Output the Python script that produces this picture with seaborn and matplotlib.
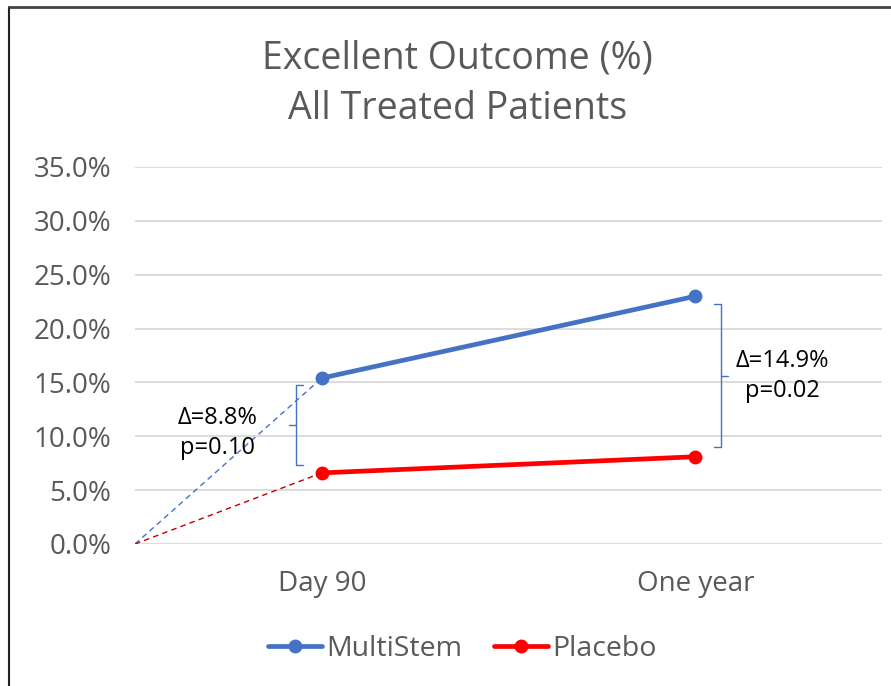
import pandas as pd
import seaborn as sns
import matplotlib.pyplot as plt
from matplotlib.lines import Line2D

# data
timepoints = ['Day 90', 'One year']
multistem = [0.154, 0.230]
placebo = [0.066, 0.081]
delta_labels = ['Δ=8.8%\np=0.10', 'Δ=14.9%\np=0.02']

df = pd.DataFrame({
    'time': timepoints * 2,
    'pct': multistem + placebo,
    'group': ['MultiStem'] * 2 + ['Placebo'] * 2,
})

sns.set_style('white')
plt.rcParams['font.family'] = ['Open Sans', 'DejaVu Sans']
gray = '#595959'
palette = {'MultiStem': '#4472C4', 'Placebo': '#FF0000'}

fig = plt.figure(figsize=(8.91, 6.86), dpi=100)
ax = fig.add_axes([0.1515, 0.207, 0.8385, 0.5496])

sns.lineplot(data=df, x='time', y='pct', hue='group', palette=palette,
             marker='o', markersize=10, markeredgewidth=0, linewidth=3.4,
             sort=False, ax=ax)

# dashed lines from origin to day 90 points
ax.plot([-0.5, 0], [0, multistem[0]], ls='--', lw=1, color='#4472C4', dashes=(4, 3))
ax.plot([-0.5, 0], [0, placebo[0]], ls='--', lw=1, color='#C00000', dashes=(4, 3))

ax.set_xlim(-0.5, 1.5)
ax.set_ylim(0, 0.35)
ax.set_yticks([i * 0.05 for i in range(8)])
ax.yaxis.set_major_formatter(plt.FuncFormatter(lambda v, p: f'{v*100:.1f}%'))
ax.grid(axis='y', color='#D9D9D9', lw=1.3)
ax.set_axisbelow(True)
sns.despine(ax=ax, left=True, bottom=True, top=True, right=True)
ax.tick_params(axis='both', colors=gray, labelsize=20, length=0)
ax.tick_params(axis='x', pad=19)
ax.tick_params(axis='y', pad=17)
ax.set_xlabel('')
ax.set_ylabel('')

# brackets
bc = '#4472C4'
w = 0.019
bx, y0, y1 = -0.068, 0.0733, 0.1475
ym = (y0 + y1) / 2
ax.plot([bx + w, bx, bx, bx + w], [y1, y1, y0, y0], color=bc, lw=1)
ax.plot([bx, bx - w], [ym, ym], color=bc, lw=1)
bx2, y2, y3 = 1.068, 0.090, 0.2226
ym2 = (y2 + y3) / 2
ax.plot([bx2 - w, bx2, bx2, bx2 - w], [y3, y3, y2, y2], color=bc, lw=1)
ax.plot([bx2, bx2 + w], [ym2, ym2], color=bc, lw=1)

ax.text(-0.28, 0.103, delta_labels[0], ha='center', va='center', fontsize=17,
        color='black', linespacing=1.35)
ax.text(1.234, 0.156, delta_labels[1], ha='center', va='center', fontsize=17,
        color='black', linespacing=1.35)

fig.text(0.513, 0.878, 'Excellent Outcome (%)\nAll Treated Patients', ha='center',
         va='center', fontsize=27, color=gray, linespacing=1.42)

handles, labels = ax.get_legend_handles_labels()
ax.legend(handles, labels, loc='center', bbox_to_anchor=(0.519, 0.054),
          bbox_transform=fig.transFigure, ncol=2, frameon=False, fontsize=20.5,
          handlelength=1.9, handletextpad=0.15, columnspacing=1.1, labelcolor=gray)

# chart border (left and top only visible)
fig.add_artist(Line2D([0.0105, 0.0105], [0, 0.99], transform=fig.transFigure,
                      color='#222222', lw=1.5))
fig.add_artist(Line2D([0.0105, 1], [0.99, 0.99], transform=fig.transFigure,
                      color='#444444', lw=2))

fig.savefig('out.png', dpi=100)
